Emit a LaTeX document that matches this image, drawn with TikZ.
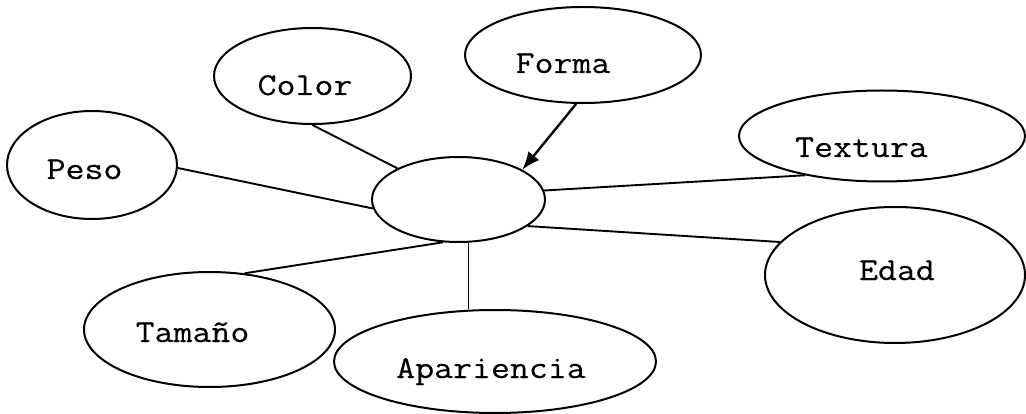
\documentclass[tikz,border=0pt]{standalone}
\usepackage{fontspec}
\newfontfamily\courlike[FakeStretch=1.15,FakeBold=0.35]{Latin Modern Mono}
\usetikzlibrary{shapes.geometric,arrows.meta}
\begin{document}
\begin{tikzpicture}[x=1pt,y=1pt,
  bubble/.style={ellipse,draw=black,line width=2pt,inner sep=0pt,fill=white},
  lbl/.style={anchor=base,inner sep=0pt,font=\courlike\fontsize{32}{38}\selectfont},
  conn/.style={draw=black,line width=1.9pt}]
\useasboundingbox (0,0) rectangle (1026,-414);
\fill[white] (0,0) rectangle (1026,-414);
% ellipses
\node[bubble,minimum width=173pt,minimum height=85pt] (c) at (458.5,-199.5) {};
\node[bubble,minimum width=197pt,minimum height=96pt] (color) at (312.5,-76) {};
\node[bubble,minimum width=170pt,minimum height=108pt] (peso) at (92,-165) {};
\node[bubble,minimum width=236pt,minimum height=96pt] (forma) at (583,-55) {};
\node[bubble,minimum width=286pt,minimum height=91pt] (textura) at (882,-136) {};
\node[bubble,minimum width=260pt,minimum height=136pt] (edad) at (895,-275) {};
\node[bubble,minimum width=251pt,minimum height=115pt] (tamano) at (209.5,-329.5) {};
\node[bubble,minimum width=322pt,minimum height=103pt] (apar) at (495,-361.5) {};
% labels
\node[lbl] (tcolor) at (305,-95) {Color};
\node[lbl] (tpeso) at (84.5,-179) {Peso};
\node[lbl] (tforma) at (563,-73) {Forma};
\node[lbl] (ttextura) at (861.5,-157) {Textura};
\node[lbl] (tedad) at (897,-280) {Edad};
\node[lbl] (ttamano) at (192.5,-342) {Tamaño};
\node[lbl] (tapar) at (491,-378) {Apariencia};
% connectors
\draw[conn] (color.south) -- (c.153.6);
\draw[conn] (peso.-2.7) -- (c.186.3);
\draw[conn,line width=2.4pt,-{Latex[length=18pt,width=14pt]}] (forma.262) -- (c.25.3);
\draw[conn] (textura.207.2) -- (c.6.4);
\draw[conn] (edad.164.1) -- (c.-21.9);
\draw[conn] (tamano.58.6) -- (c.250.7);
\draw[draw=black,line width=1.5pt] (c.283.9) -- (c.283.9 |- apar.north);
\end{tikzpicture}
\end{document}
